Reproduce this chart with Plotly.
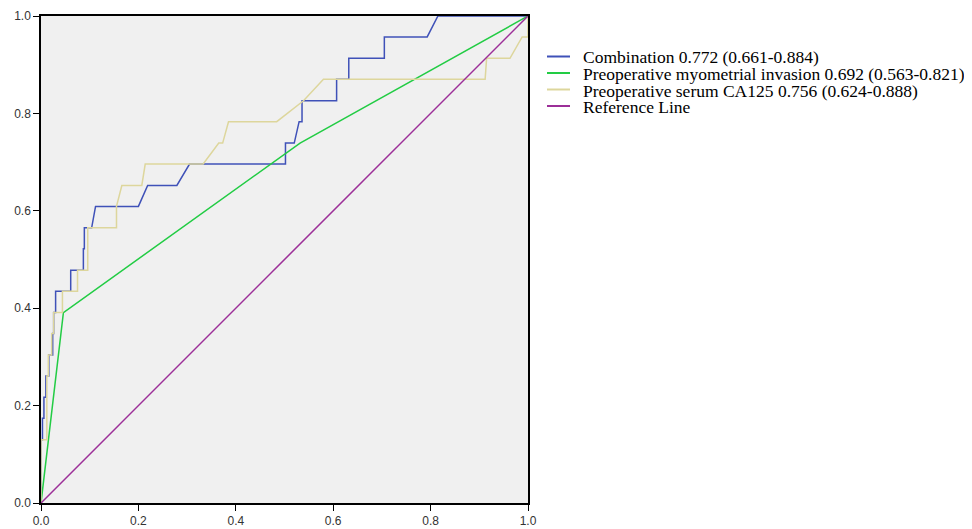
import plotly.graph_objects as go

# ROC curve points (1 - specificity, sensitivity)
comb_x = [0, 0, 0.003, 0.003, 0.006, 0.006, 0.010, 0.010, 0.016, 0.016, 0.024, 0.024, 0.026, 0.026,
          0.030, 0.030, 0.061, 0.061, 0.087, 0.087, 0.089, 0.089, 0.104, 0.112, 0.200, 0.219, 0.279,
          0.305, 0.502, 0.502, 0.520, 0.530, 0.536, 0.536, 0.607, 0.607, 0.632, 0.632, 0.705, 0.705,
          0.793, 0.815, 1.0]
comb_y = [0, 0.130, 0.130, 0.174, 0.174, 0.217, 0.217, 0.261, 0.261, 0.304, 0.304, 0.348, 0.348, 0.391,
          0.391, 0.435, 0.435, 0.478, 0.478, 0.522, 0.522, 0.565, 0.565, 0.609, 0.609, 0.652, 0.652,
          0.696, 0.696, 0.739, 0.739, 0.783, 0.783, 0.826, 0.826, 0.870, 0.870, 0.913, 0.913, 0.957,
          0.957, 1.0, 1.0]

myo_x = [0, 0.046, 0.532, 1.0]
myo_y = [0, 0.391, 0.739, 1.0]

ca_x = [0, 0, 0.012, 0.012, 0.015, 0.015, 0.022, 0.022, 0.026, 0.026, 0.044, 0.044, 0.075, 0.075,
        0.096, 0.096, 0.155, 0.155, 0.166, 0.207, 0.214, 0.333, 0.365, 0.373, 0.385, 0.484, 0.539,
        0.580, 0.912, 0.915, 0.963, 0.988, 1.0, 1.0]
ca_y = [0, 0.130, 0.130, 0.261, 0.261, 0.304, 0.304, 0.348, 0.348, 0.391, 0.391, 0.435, 0.435, 0.478,
        0.478, 0.565, 0.565, 0.609, 0.652, 0.652, 0.696, 0.696, 0.739, 0.739, 0.783, 0.783, 0.826,
        0.870, 0.870, 0.913, 0.913, 0.957, 0.957, 1.0]

ref_x = [0, 1]
ref_y = [0, 1]

names = ["Combination 0.772 (0.661-0.884)",
         "Preoperative myometrial invasion 0.692 (0.563-0.821)",
         "Preoperative serum CA125 0.756 (0.624-0.888)",
         "Reference Line"]
colors = ["#3f51b8", "#22cc44", "#ddd69c", "#9c2f98"]

tick_vals = [0.0, 0.2, 0.4, 0.6, 0.8, 1.0]
tick_text = ["0.0", "0.2", "0.4", "0.6", "0.8", "1.0"]

fig = go.Figure()
for xs, ys, nm, c in [(comb_x, comb_y, names[0], colors[0]),
                      (myo_x, myo_y, names[1], colors[1]),
                      (ca_x, ca_y, names[2], colors[2]),
                      (ref_x, ref_y, names[3], colors[3])]:
    fig.add_trace(go.Scatter(x=xs, y=ys, mode="lines", name=nm,
                             line=dict(color=c, width=1.5), showlegend=False))

axis_common = dict(range=[0, 1], tickvals=tick_vals, ticktext=tick_text, automargin=False,
                   showgrid=False, zeroline=False, showline=True, linecolor="#000",
                   linewidth=1.5, ticks="outside", ticklen=6, tickcolor="#000", mirror=True,
                   tickfont=dict(family="Liberation Sans, Arial", size=12, color="#333"))

# page body has an 8px margin, so the figure is drawn at (8, 8) in the window
OFF = 8
PL, PR, PT, PB = 41 - OFF, 528 - OFF, 16 - OFF, 503 - OFF   # plot area in figure px
W, H = 972 - OFF, 529 - OFF

def xp(px):
    return (px - OFF - PL) / (PR - PL)

def yp(py):
    return (PB - (py - OFF)) / (PB - PT)

# Legend drawn as line samples + text labels to the right of the plot
row_px = [56.5, 73.0, 89.5, 106.0]
annotations = []
shapes = []
for nm, c, py in zip(names, colors, row_px):
    shapes.append(dict(type="line", xref="paper", yref="paper",
                       x0=xp(547), x1=xp(570), y0=yp(py), y1=yp(py),
                       line=dict(color=c, width=2)))
    annotations.append(dict(text=nm, xref="paper", yref="paper", x=xp(582),
                            y=yp(py), xanchor="left", yanchor="middle", showarrow=False,
                            yshift=-1, borderpad=0,
                            font=dict(family="Liberation Serif, Times New Roman", size=17.5,
                                      color="#000")))

fig.update_layout(
    width=W, height=H,
    margin=dict(l=PL, r=W - PR, t=PT, b=H - PB, autoexpand=False),
    paper_bgcolor="white", plot_bgcolor="#f0f0f0",
    xaxis=dict(**axis_common),
    yaxis=dict(**axis_common),
    showlegend=False,
    shapes=shapes,
    annotations=annotations,
)

fig.write_html("out.html")
